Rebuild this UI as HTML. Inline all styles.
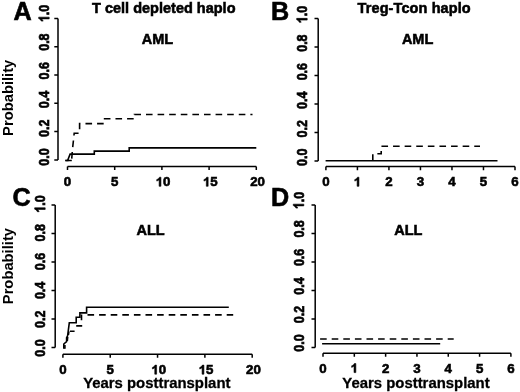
<!DOCTYPE html>
<html><head><meta charset="utf-8">
<style>
html,body{margin:0;padding:0;background:#fff;}
body{width:520px;height:392px;overflow:hidden;}
svg{display:block;}
text{font-family:"Liberation Sans",sans-serif;font-weight:bold;fill:#000;stroke:#000;stroke-width:0.45;}
.ax{stroke:#000;stroke-width:1.5;fill:none;}
.cv{stroke:#000;stroke-width:1.6;fill:none;}
.ds{stroke:#000;stroke-width:1.6;fill:none;stroke-dasharray:6.6 5;}
.tk text{font-size:13.3px;text-anchor:start;stroke-width:0.6;}
.one{fill:#000;stroke:#000;stroke-width:92;}
.pl{font-size:25.2px;stroke-width:0.6;}
.tt{font-size:14.5px;text-anchor:middle;stroke-width:0.55;}
.yl{font-size:14.75px;text-anchor:middle;stroke:none;}
.xl{font-size:14.9px;text-anchor:middle;stroke-width:0.3;}
</style></head>
<body>
<svg width="520" height="392" viewBox="0 0 520 392">
<defs><filter id="bl" x="0" y="0" width="520" height="392" filterUnits="userSpaceOnUse"><feGaussianBlur stdDeviation="0.45"/></filter></defs>
<rect width="520" height="392" fill="#fff"/>
<g filter="url(#bl)">
<g id="A">
<text class="pl" x="13.6" y="19.6">A</text>
<text class="tt" x="163.8" y="12.6">T cell depleted haplo</text>
<text class="tt" x="157.5" y="43.6">AML</text>
<text class="yl" transform="translate(12.9,97.8) rotate(-90)">Probability</text>
<path class="ax" d="M58,18.4V159.9M54.30,159.90H58M54.30,131.60H58M54.30,103.30H58M54.30,75.00H58M54.30,46.70H58M54.30,18.40H58"/>
<path class="ax" d="M67.50,166.5H256.30M67.50,166.5V170.10M114.70,166.5V170.10M161.90,166.5V170.10M209.10,166.5V170.10M256.30,166.5V170.10"/>
<g class="tk">
<g transform="translate(67.50,186.30)"><text x="-3.70" y="0">0</text></g><g transform="translate(114.70,186.30)"><text x="-3.70" y="0">5</text></g><g transform="translate(163.10,186.30)"><path class="one" transform="translate(-7.39,0) scale(0.00649,-0.00617)" d="M806 0H525V1059Q371 915 162 846V1101Q272 1137 401 1237.5T578 1472H806Z"/><text x="0.00" y="0">0</text></g><g transform="translate(210.30,186.30)"><path class="one" transform="translate(-7.39,0) scale(0.00649,-0.00617)" d="M806 0H525V1059Q371 915 162 846V1101Q272 1137 401 1237.5T578 1472H806Z"/><text x="0.00" y="0">5</text></g><g transform="translate(257.50,186.30)"><text x="-7.39" y="0">20</text></g>
<g transform="translate(49.20,157.00) rotate(-90) scale(0.94,1.16)"><text x="-9.24" y="0">0.0</text></g>
<g transform="translate(49.20,128.28) rotate(-90) scale(0.94,1.16)"><text x="-9.24" y="0">0.2</text></g>
<g transform="translate(49.20,99.56) rotate(-90) scale(0.94,1.16)"><text x="-9.24" y="0">0.4</text></g>
<g transform="translate(49.20,70.84) rotate(-90) scale(0.94,1.16)"><text x="-9.24" y="0">0.6</text></g>
<g transform="translate(49.20,42.12) rotate(-90) scale(0.94,1.16)"><text x="-9.24" y="0">0.8</text></g>
<g transform="translate(49.20,13.40) rotate(-90) scale(0.94,1.16)"><path class="one" transform="translate(-9.24,0) scale(0.00649,-0.00617)" d="M806 0H525V1059Q371 915 162 846V1101Q272 1137 401 1237.5T578 1472H806Z"/><text x="-1.85" y="0">.0</text></g>
</g>
<path class="cv" d="M65.2,160.5H71.8M67.6,160.5L70.1,154.1H94.3V151.1H129.2V147.9H256.3"/>
<path class="ds" stroke-dashoffset="3.6" d="M65.5,160.5H71.6L72.4,150L74.2,133.3H79.6V123.6H104.6V118.8H134.4V114.5H252.5"/>
</g>
<g id="B">
<text class="pl" x="271" y="19.6">B</text>
<text class="tt" x="414.2" y="12.6" style="letter-spacing:0.1px">Treg-Tcon haplo</text>
<text class="tt" x="417.6" y="43.6">AML</text>
<path class="ax" d="M318.2,18.4V160.9M314.50,160.90H318.2M314.50,132.40H318.2M314.50,103.90H318.2M314.50,75.40H318.2M314.50,46.90H318.2M314.50,18.40H318.2"/>
<path class="ax" d="M325.90,166.6H515.00M325.90,166.6V170.20M357.42,166.6V170.20M388.93,166.6V170.20M420.45,166.6V170.20M451.97,166.6V170.20M483.48,166.6V170.20M515.00,166.6V170.20"/>
<g class="tk">
<g transform="translate(325.90,186.30)"><text x="-3.70" y="0">0</text></g><g transform="translate(357.42,186.30)"><path class="one" transform="translate(-3.70,0) scale(0.00649,-0.00617)" d="M806 0H525V1059Q371 915 162 846V1101Q272 1137 401 1237.5T578 1472H806Z"/></g><g transform="translate(388.93,186.30)"><text x="-3.70" y="0">2</text></g><g transform="translate(420.45,186.30)"><text x="-3.70" y="0">3</text></g><g transform="translate(451.97,186.30)"><text x="-3.70" y="0">4</text></g><g transform="translate(483.48,186.30)"><text x="-3.70" y="0">5</text></g><g transform="translate(515.00,186.30)"><text x="-3.70" y="0">6</text></g>
<g transform="translate(307.20,157.30) rotate(-90) scale(0.94,1.16)"><text x="-9.24" y="0">0.0</text></g>
<g transform="translate(307.20,128.76) rotate(-90) scale(0.94,1.16)"><text x="-9.24" y="0">0.2</text></g>
<g transform="translate(307.20,100.22) rotate(-90) scale(0.94,1.16)"><text x="-9.24" y="0">0.4</text></g>
<g transform="translate(307.20,71.68) rotate(-90) scale(0.94,1.16)"><text x="-9.24" y="0">0.6</text></g>
<g transform="translate(307.20,43.14) rotate(-90) scale(0.94,1.16)"><text x="-9.24" y="0">0.8</text></g>
<g transform="translate(307.20,14.60) rotate(-90) scale(0.94,1.16)"><path class="one" transform="translate(-9.24,0) scale(0.00649,-0.00617)" d="M806 0H525V1059Q371 915 162 846V1101Q272 1137 401 1237.5T578 1472H806Z"/><text x="-1.85" y="0">.0</text></g>
</g>
<path class="cv" d="M325.6,160.8H497.5"/>
<path class="ds" d="M372.8,160.8V153.75H381.2V146.25H480"/>
</g>
<g id="C">
<text class="pl" x="12.6" y="205.8">C</text>
<text class="tt" x="150.6" y="234.6">ALL</text>
<text class="yl" transform="translate(12.9,266.1) rotate(-90)">Probability</text>
<text class="xl" x="156.8" y="388">Years posttransplant</text>
<path class="ax" d="M55.2,204.9V347.4M51.50,347.40H55.2M51.50,318.90H55.2M51.50,290.40H55.2M51.50,261.90H55.2M51.50,233.40H55.2M51.50,204.90H55.2"/>
<path class="ax" d="M62.90,354.2H252.20M62.90,354.2V357.80M110.22,354.2V357.80M157.55,354.2V357.80M204.88,354.2V357.80M252.20,354.2V357.80"/>
<g class="tk">
<g transform="translate(62.90,374.20)"><text x="-3.70" y="0">0</text></g><g transform="translate(110.22,374.20)"><text x="-3.70" y="0">5</text></g><g transform="translate(158.75,374.20)"><path class="one" transform="translate(-7.39,0) scale(0.00649,-0.00617)" d="M806 0H525V1059Q371 915 162 846V1101Q272 1137 401 1237.5T578 1472H806Z"/><text x="0.00" y="0">0</text></g><g transform="translate(206.07,374.20)"><path class="one" transform="translate(-7.39,0) scale(0.00649,-0.00617)" d="M806 0H525V1059Q371 915 162 846V1101Q272 1137 401 1237.5T578 1472H806Z"/><text x="0.00" y="0">5</text></g><g transform="translate(253.40,374.20)"><text x="-7.39" y="0">20</text></g>
<g transform="translate(45.20,348.00) rotate(-90) scale(0.94,1.16)"><text x="-9.24" y="0">0.0</text></g>
<g transform="translate(45.20,319.20) rotate(-90) scale(0.94,1.16)"><text x="-9.24" y="0">0.2</text></g>
<g transform="translate(45.20,290.40) rotate(-90) scale(0.94,1.16)"><text x="-9.24" y="0">0.4</text></g>
<g transform="translate(45.20,261.60) rotate(-90) scale(0.94,1.16)"><text x="-9.24" y="0">0.6</text></g>
<g transform="translate(45.20,232.80) rotate(-90) scale(0.94,1.16)"><text x="-9.24" y="0">0.8</text></g>
<g transform="translate(45.20,204.00) rotate(-90) scale(0.94,1.16)"><path class="one" transform="translate(-9.24,0) scale(0.00649,-0.00617)" d="M806 0H525V1059Q371 915 162 846V1101Q272 1137 401 1237.5T578 1472H806Z"/><text x="-1.85" y="0">.0</text></g>
</g>
<path class="cv" d="M63.8,348.8V344L66.6,341.6V337.8L67.6,335.8L69.3,322.8H76.2V317.2H79.9V312.9H86.6V307.3H228.8"/>
<path class="cv" d="M64.9,348.8V345M67.3,341L67.7,337M68.4,335L68.9,331.5"/>
<path class="cv" d="M69.9,331.2H74.6M76.2,325.9H82.2M81.5,320.2V314.4"/>
<path class="ds" d="M87.5,314.9H233.2"/>
</g>
<g id="D">
<text class="pl" x="271" y="206">D</text>
<text class="tt" x="408.3" y="234.6">ALL</text>
<text class="xl" x="416" y="388">Years posttransplant</text>
<path class="ax" d="M315.2,204.9V347.4M311.50,347.40H315.2M311.50,318.90H315.2M311.50,290.40H315.2M311.50,261.90H315.2M311.50,233.40H315.2M311.50,204.90H315.2"/>
<path class="ax" d="M323.00,353.2H510.90M323.00,353.2V356.80M354.32,353.2V356.80M385.63,353.2V356.80M416.95,353.2V356.80M448.27,353.2V356.80M479.58,353.2V356.80M510.90,353.2V356.80"/>
<g class="tk">
<g transform="translate(323.00,372.60)"><text x="-3.70" y="0">0</text></g><g transform="translate(354.32,372.60)"><path class="one" transform="translate(-3.70,0) scale(0.00649,-0.00617)" d="M806 0H525V1059Q371 915 162 846V1101Q272 1137 401 1237.5T578 1472H806Z"/></g><g transform="translate(385.63,372.60)"><text x="-3.70" y="0">2</text></g><g transform="translate(416.95,372.60)"><text x="-3.70" y="0">3</text></g><g transform="translate(448.27,372.60)"><text x="-3.70" y="0">4</text></g><g transform="translate(479.58,372.60)"><text x="-3.70" y="0">5</text></g><g transform="translate(510.90,372.60)"><text x="-3.70" y="0">6</text></g>
<g transform="translate(303.80,343.00) rotate(-90) scale(0.94,1.16)"><text x="-9.24" y="0">0.0</text></g>
<g transform="translate(303.80,314.48) rotate(-90) scale(0.94,1.16)"><text x="-9.24" y="0">0.2</text></g>
<g transform="translate(303.80,285.96) rotate(-90) scale(0.94,1.16)"><text x="-9.24" y="0">0.4</text></g>
<g transform="translate(303.80,257.44) rotate(-90) scale(0.94,1.16)"><text x="-9.24" y="0">0.6</text></g>
<g transform="translate(303.80,228.92) rotate(-90) scale(0.94,1.16)"><text x="-9.24" y="0">0.8</text></g>
<g transform="translate(303.80,200.40) rotate(-90) scale(0.94,1.16)"><path class="one" transform="translate(-9.24,0) scale(0.00649,-0.00617)" d="M806 0H525V1059Q371 915 162 846V1101Q272 1137 401 1237.5T578 1472H806Z"/><text x="-1.85" y="0">.0</text></g>
</g>
<path class="cv" d="M322.1,343.7H440.2"/>
<path class="ds" d="M320.1,339H453.7"/>
</g>
</g>
</svg>
</body></html>
